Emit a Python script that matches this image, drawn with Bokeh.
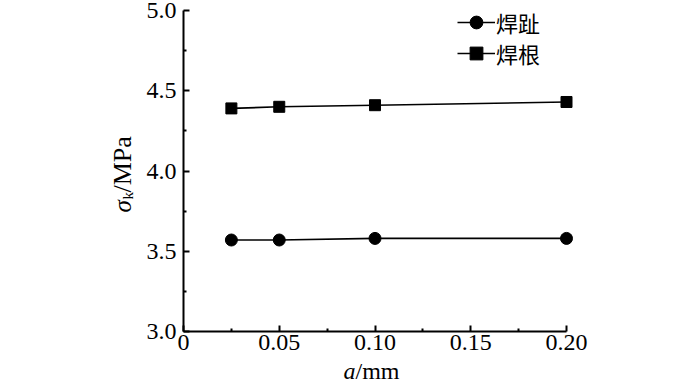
import math
from bokeh.plotting import figure
from bokeh.models import Range1d, FixedTicker, Legend, LegendItem, Label
from bokeh.embed import file_html
from bokeh.resources import INLINE

# ---- data ----
a_mm = [0.025, 0.05, 0.10, 0.20]
toe = [3.57, 3.57, 3.58, 3.58]      # 焊趾
root = [4.39, 4.40, 4.41, 4.43]     # 焊根
series_names = ["焊趾", "焊根"]
x_ticks = [0, 0.05, 0.10, 0.15, 0.20]
x_tick_labels = ["0", "0.05", "0.10", "0.15", "0.20"]
x_minor = [0.025, 0.075, 0.125, 0.175]
y_ticks = [3.0, 3.5, 4.0, 4.5, 5.0]
y_tick_labels = ["3.0", "3.5", "4.0", "4.5", "5.0"]
y_minor = [3.25, 3.75, 4.25, 4.75]
x_lim = (0.0, 0.2)
y_lim = (3.0, 5.0)

SERIF = "Liberation Serif"
CJK = "Noto Sans CJK SC"

W, H = 700, 384
# where the axis box sits on the canvas (pixels)
BOX_L, BOX_R, BOX_T, BOX_B = 183, 566, 10, 331
xs = (BOX_R - BOX_L) / (x_lim[1] - x_lim[0])
ys = (BOX_B - BOX_T) / (y_lim[1] - y_lim[0])
x_range = Range1d(x_lim[0] - BOX_L / xs, x_lim[1] + (W - BOX_R) / xs)
y_range = Range1d(y_lim[0] - (H - BOX_B) / ys, y_lim[1] + BOX_T / ys)

p = figure(width=W, height=H, output_backend="svg", toolbar_location=None,
           x_range=x_range, y_range=y_range,
           min_border=0, min_border_left=0, min_border_right=0,
           min_border_top=0, min_border_bottom=0)
p.outline_line_color = None
p.xgrid.visible = False
p.ygrid.visible = False

p.xaxis[0].fixed_location = y_lim[0]
p.yaxis[0].fixed_location = x_lim[0]
p.xaxis[0].bounds = x_lim
p.yaxis[0].bounds = y_lim

for ax, ticks, minor, labels in [(p.xaxis[0], x_ticks, x_minor, x_tick_labels),
                                 (p.yaxis[0], y_ticks, y_minor, y_tick_labels)]:
    ax.ticker = FixedTicker(ticks=ticks, minor_ticks=minor)
    ax.major_label_overrides = {t: l for t, l in zip(ticks, labels)}
    ax.axis_line_width = 2
    ax.axis_line_color = "black"
    ax.major_tick_in = 6
    ax.major_tick_out = 0
    ax.minor_tick_in = 3
    ax.minor_tick_out = 0
    ax.major_tick_line_width = 2
    ax.minor_tick_line_width = 2
    ax.major_label_text_font = SERIF
    ax.major_label_text_font_size = "24px"
    ax.major_label_text_color = "black"

p.xaxis[0].major_label_standoff = 3
p.yaxis[0].major_label_standoff = 7

l1 = p.line(a_mm, toe, line_color="black", line_width=1.6)
s1 = p.scatter(a_mm, toe, marker="circle", size=12, fill_color="black", line_color="black")
l2 = p.line(a_mm, root, line_color="black", line_width=1.6)
s2 = p.scatter(a_mm, root, marker="square", size=11, fill_color="black", line_color="black")

ROW_H = 32
for name, rends, cy in [(series_names[0], [l1, s1], 22), (series_names[1], [l2, s2], 53)]:
    leg = Legend(items=[LegendItem(label=name, renderers=rends)],
                 location=(457, H - (cy + ROW_H // 2)),
                 glyph_width=38, glyph_height=ROW_H, label_height=ROW_H,
                 label_standoff=1, spacing=0, padding=0, margin=0,
                 border_line_color=None, background_fill_alpha=0,
                 label_text_font=CJK, label_text_font_size="22px",
                 label_text_color="black")
    p.add_layout(leg)


def lab(px, py, text, size, italic=False, angle=0.0, baseline="middle"):
    p.add_layout(Label(x=px, y=H - py, x_units="screen", y_units="screen",
                       text=text, angle=angle,
                       text_font=SERIF, text_font_style="italic" if italic else "normal",
                       text_font_size=size, text_align="left",
                       text_baseline=baseline, text_color="black"))


# y-axis title: σ_k/MPa (rotated)
lab(122, 212, "σ", "25px", italic=True, angle=math.pi / 2)
lab(127, 199, "k", "15px", angle=math.pi / 2)
lab(122, 192, "/MPa", "26px", angle=math.pi / 2)

# x-axis title: a/mm
lab(343, 370, "a", "24px", italic=True)
lab(355, 370, "/mm", "24px")

open("out.html", "w").write(file_html(p, INLINE))
